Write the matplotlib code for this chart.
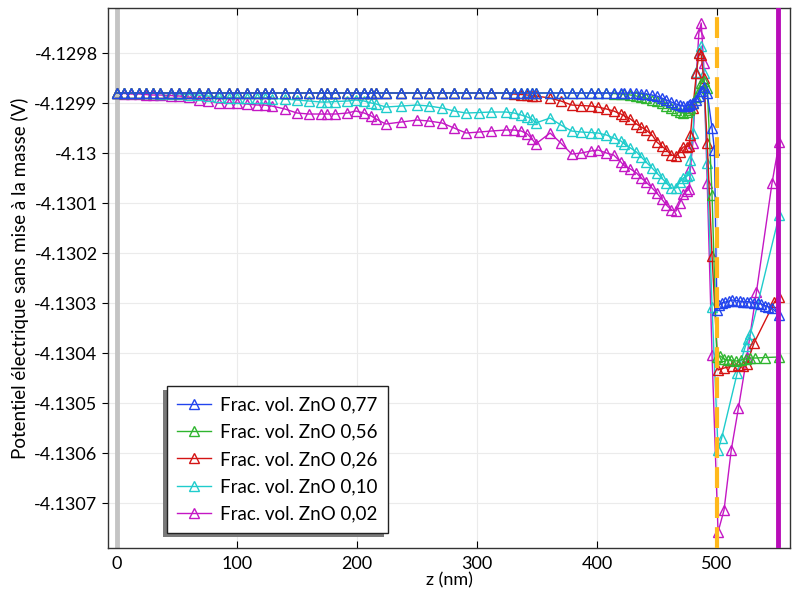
import numpy as np
import matplotlib
matplotlib.use('Agg')
import matplotlib.pyplot as plt
import matplotlib.patches as patches
from matplotlib.ticker import FuncFormatter, MultipleLocator

plt.rcParams['font.family'] = ['Lato', 'DejaVu Sans']

# potentials are stored as offsets from V_REF, in microvolts
V_REF = -4.13

# shared mesh along z (nm) up to the interface
z_mesh = [0, 6, 12, 18, 24, 30, 36, 45, 52, 60, 68, 76, 85, 93, 100, 108, 117, 123,
          129, 140, 150, 160, 170, 175, 182, 192, 199, 206, 212, 216, 224, 237, 250,
          260, 271, 281, 291, 302, 312, 324, 331, 337, 342, 346, 349, 361, 370, 379,
          387, 395, 401, 408, 414, 420, 423, 428, 433, 437, 441, 446, 450, 454, 458,
          462, 466, 469, 472, 475, 477, 478, 480, 483, 485, 487, 489, 492, 496]

dv_077 = [120, 120, 120, 120, 120, 120, 120, 120, 120, 120, 120, 120, 120, 120, 120, 120, 120, 120,
          120, 120, 120, 120, 120, 120, 120, 120, 120, 120, 120, 120, 120, 120, 120,
          120, 120, 120, 120, 120, 120, 120, 120, 120, 120, 120, 120, 120, 120, 120,
          120, 120, 120, 120, 120, 120, 120, 120, 120, 119, 118, 116, 114, 110, 106,
          102, 98, 96, 94, 95, 96, 98, 100, 106, 114, 125, 132, 120, 50]
dv_056 = [120, 120, 120, 120, 120, 120, 120, 120, 120, 120, 120, 120, 120, 120, 120, 120, 120, 120,
          120, 120, 120, 120, 120, 120, 120, 120, 120, 120, 120, 120, 120, 120, 120,
          120, 120, 120, 120, 120, 120, 120, 120, 120, 120, 120, 120, 120, 120, 120,
          120, 120, 120, 120, 119, 118, 118, 116, 114, 112, 110, 107, 104, 100, 94,
          90, 86, 82, 80, 82, 86, 90, 100, 112, 125, 140, 145, 130, -84]
dv_026 = [120, 120, 120, 120, 120, 120, 120, 120, 120, 120, 120, 120, 120, 120, 120, 120, 120, 120,
          120, 120, 120, 120, 120, 120, 120, 120, 120, 120, 120, 120, 120, 120, 120,
          120, 120, 120, 120, 120, 120, 120, 118, 117, 116, 115, 114, 110, 104, 96,
          95, 94, 92, 88, 84, 78, 74, 68, 58, 52, 46, 36, 22, 14, 6,
          -4, -6, 2, 12, 13, 14, 36, 90, 160, 200, 196, 150, 20, -206]
dv_010 = [120, 120, 120, 120, 120, 120, 119, 119, 118, 117, 116, 114, 112, 111, 110, 110, 110, 110,
          109, 108, 106, 104, 102, 102, 103, 104, 106, 104, 100, 98, 92, 94, 96,
          94, 90, 84, 80, 81, 82, 82, 80, 76, 72, 68, 60, 70, 56, 44,
          42, 41, 40, 36, 30, 24, 18, 10, 2, -8, -18, -30, -40, -50, -60,
          -70, -70, -58, -50, -46, -44, -14, 40, 162, 200, 214, 160, -20, -308]
dv_002 = [120, 119, 118, 118, 117, 116, 116, 115, 114, 112, 106, 104, 100, 100, 100, 98, 96, 96,
          94, 88, 80, 78, 78, 78, 78, 80, 84, 80, 74, 68, 58, 62, 66,
          64, 60, 50, 40, 42, 44, 46, 46, 44, 38, 28, 18, 40, 20, -2,
          0, 4, 6, 0, -4, -18, -26, -32, -40, -50, -58, -70, -80, -92, -104,
          -114, -116, -100, -82, -76, -72, -30, 20, 160, 240, 260, 180, -60, -404]

# beyond the interface each curve has its own points
z_tail_077 = [498, 500, 502, 504, 507, 510, 513, 516, 519, 522, 525, 528, 531, 534, 537, 540, 543, 546, 552]
dv_tail_077 = [6, -314, -304, -300, -298, -296, -294, -295, -296, -298, -297, -298, -299, -300, -302, -305, -308, -310, -324]
z_tail_056 = [500, 503, 506, 509, 512, 516, 520, 524, 528, 532, 540, 552]
dv_tail_056 = [-408, -406, -412, -414, -414, -416, -414, -412, -410, -410, -409, -408]
z_tail_026 = [501, 506, 513, 518, 522, 525, 531, 548, 552]
dv_tail_026 = [-434, -430, -426, -424, -426, -422, -380, -298, -288]
z_tail_010 = [501, 504, 517, 524, 526, 528, 552]
dv_tail_010 = [-594, -570, -440, -385, -372, -362, -124]
z_tail_002 = [501, 506, 512, 518, 525, 533, 546, 552]
dv_tail_002 = [-758, -714, -594, -510, -408, -278, -60, 22]

labels = ['Frac. vol. ZnO 0,77', 'Frac. vol. ZnO 0,56', 'Frac. vol. ZnO 0,26',
          'Frac. vol. ZnO 0,10', 'Frac. vol. ZnO 0,02']
colors = ['#2244ee', '#2fb52f', '#d41414', '#1fcccc', '#c417c4']

z_interface = 500
z_end = 551


def fmt_volt(v, pos):
    s = '%.4f' % v
    s = s.rstrip('0').rstrip('.')
    return s


def main():
    fig = plt.figure(figsize=(7.92, 5.94), dpi=100)
    ax = fig.add_axes([0.1364, 0.0774, 0.8611, 0.9091])

    series = [(dv_077, z_tail_077, dv_tail_077),
              (dv_056, z_tail_056, dv_tail_056),
              (dv_026, z_tail_026, dv_tail_026),
              (dv_010, z_tail_010, dv_tail_010),
              (dv_002, z_tail_002, dv_tail_002)]

    # boundary markers
    ax.axvline(0, color='#c4c4c4', lw=3.5, zorder=1)
    ax.axvline(z_interface, color='#ffb81c', lw=3, ls=(0, (5, 2.2)), zorder=4)
    ax.axvline(z_end, color='#b80cb8', lw=3.5, zorder=4)

    # first curve ends up on top
    for i, ((dv, zt, dvt), lab, c) in enumerate(zip(series, labels, colors)):
        z = np.array(z_mesh + zt)
        v = V_REF + np.array(dv + dvt) * 1e-6
        ax.plot(z, v, '-', marker='^', color=c, lw=1.0, ms=7, mfc='none', mew=1.0,
                label=lab, zorder=3.5 - 0.1 * i)

    ax.set_xlim(-7.5, 561)
    ax.set_ylim(V_REF - 790e-6, V_REF + 290e-6)
    ax.xaxis.set_major_locator(MultipleLocator(100))
    ax.yaxis.set_major_locator(MultipleLocator(1e-4))
    ax.yaxis.set_major_formatter(FuncFormatter(fmt_volt))

    ax.grid(True, color='#ebebeb', lw=0.8)
    ax.set_axisbelow(True)
    ax.tick_params(axis='x', direction='in', top=True, length=5, labelsize=13, pad=6)
    ax.tick_params(axis='y', direction='out', length=4, labelsize=13)
    for sp in ax.spines.values():
        sp.set_color('#333333')
        sp.set_linewidth(1.0)

    ax.set_xlabel('z (nm)', fontsize=13, labelpad=0)
    ax.set_ylabel('Potentiel électrique sans mise à la masse (V)', fontsize=13.5, labelpad=4)

    leg = ax.legend(loc='lower left', bbox_to_anchor=(0.0865, 0.028), borderaxespad=0,
                    fontsize=13.5, fancybox=False, framealpha=1, edgecolor='#222222',
                    handlelength=1.8, handletextpad=0.5, labelspacing=0.55, borderpad=0.55)
    leg.get_frame().set_linewidth(1.0)
    leg.set_zorder(10)

    # drop shadow down-left of the legend box, placed in axes fraction
    fig.canvas.draw()
    bb = leg.get_window_extent()
    (x0, y0), (x1, y1) = ax.transAxes.inverted().transform([[bb.x0 - 4, bb.y0 - 4],
                                                            [bb.x1 - 4, bb.y1 - 4]])
    shadow = patches.Rectangle((x0, y0), x1 - x0, y1 - y0, transform=ax.transAxes,
                               facecolor='#7a7a7a', edgecolor='none', zorder=9)
    ax.add_patch(shadow)
    fig.savefig('out.png', dpi=100)


if __name__ == '__main__':
    main()
